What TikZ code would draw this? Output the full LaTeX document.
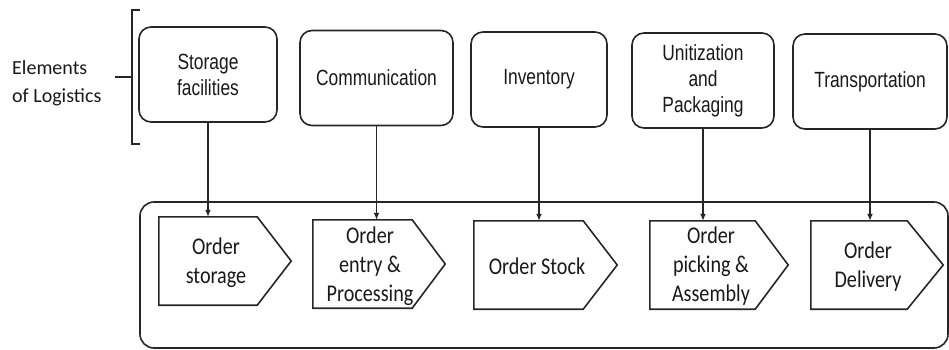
\documentclass[tikz,border=0pt]{standalone}
\usepackage{fontspec}
\usetikzlibrary{arrows.meta,calc}
\newfontfamily\topfont[FakeStretch=0.79]{Liberation Sans}
\newfontfamily\penfont[FakeStretch=0.84]{Carlito}
\newfontfamily\labfont{Carlito}
\begin{document}
\begin{tikzpicture}[x=1pt,y=-1pt,
  line/.style={draw=black!85, line width=1.6pt},
  elem/.style={line, rounded corners=12pt, align=center, inner sep=0pt,
    minimum height=95pt, text=black!90, font=\topfont\fontsize{22}{26}\selectfont},
  frame/.style={line, rounded corners=14pt, inner sep=0pt},
  pbox/.style={draw=none, inner sep=0pt, minimum height=88pt},
  ptext/.style={align=center, inner sep=0pt, text=black!90, font=\penfont\fontsize{24}{29}\selectfont},
  arr/.style={line, -{Latex[length=7pt,width=6pt]}},
  lab/.style={align=left, inner sep=0pt, text=black!90, font=\labfont\fontsize{20}{28}\selectfont}]
\useasboundingbox (0,0) rectangle (949,349);

% left label and bracket
\node[lab, anchor=west] (lbl) at (12,83) {Elements\\of Logistics};
\draw[line] (140,10) -- (132,10) -- (132,144) -- (140,144);
\draw[line] (132,77) -- (115,77);

% elements of logistics
\node[elem, minimum width=138pt] (b1) at (208,74.5) {Storage\\facilities};
\node[elem, minimum width=153pt] (b2) at (376.5,78) {Communication};
\node[elem, minimum width=136pt] (b3) at (539,79.5) {Inventory};
\node[elem, minimum width=142pt] (b4) at (703,80.5) {Unitization\\and\\Packaging};
\node[elem, minimum width=154pt] (b5) at (870,81.5) {Transportation};

% order cycle frame
\node[frame, minimum width=808pt, minimum height=146pt] (cyc) at (544,275) {};

% pentagons
\node[pbox, minimum width=98pt]  (p1) at (208,261) {};
\node[pbox, minimum width=99pt]  (p2) at (362.5,264) {};
\node[pbox, minimum width=109pt] (p3) at (528.5,265) {};
\node[pbox, minimum width=105pt] (p4) at (702.5,265) {};
\node[pbox, minimum width=96pt]  (p5) at (859,265) {};

\draw[line] (p1.north west) -- (p1.north east) -- ($(p1.east)+(34,0)$) -- (p1.south east) -- (p1.south west) -- cycle;
\draw[line] (p2.north west) -- (p2.north east) -- ($(p2.east)+(33,0)$) -- (p2.south east) -- (p2.south west) -- cycle;
\draw[line] (p3.north west) -- (p3.north east) -- ($(p3.east)+(34,0)$) -- (p3.south east) -- (p3.south west) -- cycle;
\draw[line] (p4.north west) -- (p4.north east) -- ($(p4.east)+(33,0)$) -- (p4.south east) -- (p4.south west) -- cycle;
\draw[line] (p5.north west) -- (p5.north east) -- ($(p5.east)+(36,0)$) -- (p5.south east) -- (p5.south west) -- cycle;

\node[ptext] (t1) at (216,263) {Order\\storage};
\node[ptext] (t2) at (370,266) {Order\\entry \&\\Processing};
\node[ptext] (t3) at (537,266) {Order Stock};
\node[ptext] (t4) at (711,266) {Order\\picking \&\\Assembly};
\node[ptext] (t5) at (868,267) {Order\\Delivery};

% arrows
\draw[arr] (b1.south) -- (b1.south |- p1.north);
\draw[arr] (b2.south) -- (b2.south |- p2.north);
\draw[arr] (b3.south) -- (b3.south |- p3.north);
\draw[arr] (b4.south) -- (b4.south |- p4.north);
\draw[arr] (b5.south) -- (b5.south |- p5.north);
\end{tikzpicture}
\end{document}
